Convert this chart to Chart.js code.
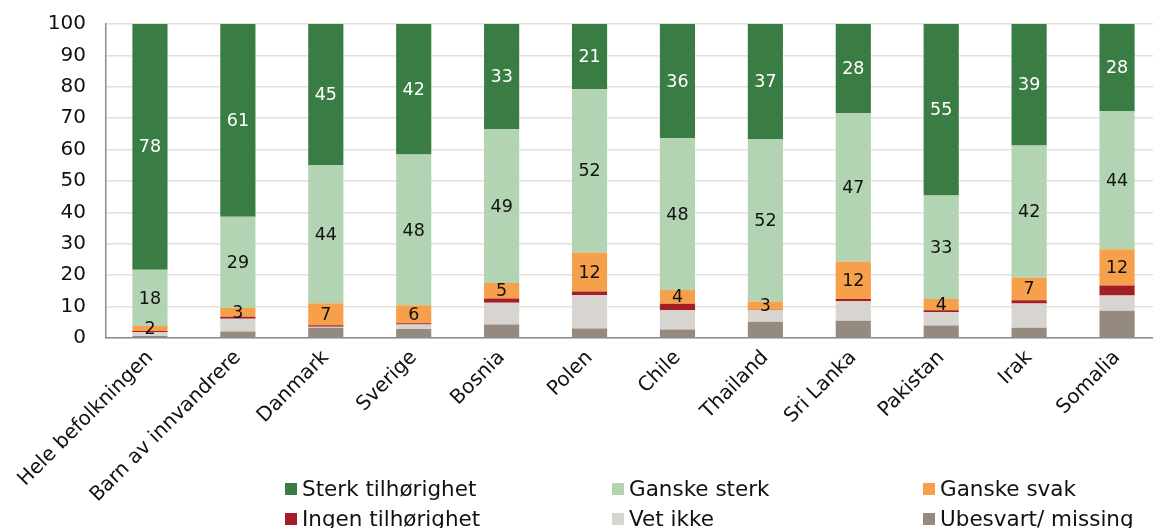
<!DOCTYPE html>
<html>
<head>
<meta charset="utf-8">
<script src="https://cdn.jsdelivr.net/npm/chart.js@4"></script>
<style>
html,body{margin:0;padding:0;background:#fff;overflow:hidden;}
#wrap{position:relative;width:1161px;height:528px;}
</style>
</head>
<body>
<div id="wrap"><canvas id="c"></canvas></div>
<script>
const categories = ["Hele befolkningen","Barn av innvandrere","Danmark","Sverige","Bosnia","Polen","Chile","Thailand","Sri Lanka","Pakistan","Irak","Somalia"];
const sterk       = [78.3, 61.4, 44.9, 41.6, 33.4, 20.8, 36.4, 36.6, 28.4, 54.6, 38.7, 27.7];
const ganskeSterk = [17.9, 29.0, 44.0, 48.0, 49.1, 52.0, 48.3, 51.8, 47.2, 33.0, 42.0, 44.0];
const ganskeSvak  = [1.6, 2.8, 7.0, 5.7, 4.9, 12.4, 4.4, 2.6, 12.0, 3.6, 7.3, 11.6];
const ingen       = [0.4, 0.7, 0.5, 0.4, 1.4, 1.1, 2.0, 0.2, 0.7, 0.6, 1.0, 3.2];
const vetIkke     = [1.2, 4.0, 0.3, 1.4, 6.9, 10.7, 6.2, 3.6, 6.2, 4.2, 7.7, 4.8];
const ubesvart    = [0.6, 2.1, 3.3, 2.9, 4.3, 3.0, 2.7, 5.2, 5.5, 4.0, 3.3, 8.7];
const yTicks = [0,10,20,30,40,50,60,70,80,90,100];

const FONT = "'DejaVu Sans', Verdana, sans-serif";

// stacked bottom -> top
const datasets = [
  {label:"Ubesvart/ missing", data:ubesvart, backgroundColor:"#958a80", showLabel:false},
  {label:"Vet ikke", data:vetIkke, backgroundColor:"#d8d5d1", showLabel:false},
  {label:"Ingen tilhørighet", data:ingen, backgroundColor:"#a51d25", showLabel:false},
  {label:"Ganske svak", data:ganskeSvak, backgroundColor:"#f6a04b", showLabel:true, labelColor:"#111"},
  {label:"Ganske sterk", data:ganskeSterk, backgroundColor:"#b3d4b2", showLabel:true, labelColor:"#111"},
  {label:"Sterk tilhørighet", data:sterk, backgroundColor:"#3a7d44", showLabel:true, labelColor:"#fff"}
];
const legendOrder = ["Sterk tilhørighet","Ganske sterk","Ganske svak","Ingen tilhørighet","Vet ikke","Ubesvart/ missing"];

const labelPlugin = {
  id:'segLabels',
  afterDatasetsDraw(chart){
    const ctx = chart.ctx;
    ctx.save();
    ctx.font = "17.5px " + FONT;
    ctx.textAlign = 'center';
    ctx.textBaseline = 'middle';
    chart.data.datasets.forEach((ds, i) => {
      if (!ds.showLabel) return;
      const meta = chart.getDatasetMeta(i);
      meta.data.forEach((el, j) => {
        const v = ds.data[j];
        ctx.fillStyle = ds.labelColor;
        ctx.fillText(String(Math.round(v)), el.x, (el.y + el.base)/2 + 1);
      });
    });
    ctx.restore();
  }
};

const legendPlugin = {
  id:'gridLegend',
  afterDraw(chart){
    const ctx = chart.ctx;
    const cols = [285, 612, 923];
    const rows = [489, 519];
    ctx.save();
    ctx.font = "21.5px " + FONT;
    ctx.textAlign = 'left';
    ctx.textBaseline = 'middle';
    legendOrder.forEach((name, k) => {
      const ds = chart.data.datasets.find(d => d.label === name);
      const x = cols[k % 3], y = rows[Math.floor(k / 3)];
      ctx.fillStyle = ds.backgroundColor;
      ctx.fillRect(x, y - 6, 12, 12);
      ctx.fillStyle = '#111';
      ctx.fillText(name, x + 17, y + 1);
    });
    ctx.restore();
  }
};

new Chart(document.getElementById('c'), {
  type:'bar',
  data:{labels:categories, datasets:datasets},
  options:{
    responsive:true,
    maintainAspectRatio:false,
    animation:false,
    layout:{padding:{top:24, left:0, right:0, bottom:0}},
    plugins:{legend:{display:false}, tooltip:{enabled:false}},
    datasets:{bar:{barPercentage:0.4, categoryPercentage:1.0, borderWidth:0}},
    scales:{
      x:{
        stacked:true,
        grid:{display:false, drawTicks:false},
        border:{display:true, color:'#8c8c8c', width:1.5},
        ticks:{autoSkip:false, minRotation:45, maxRotation:45, padding:8, color:'#111', font:{family:FONT, size:20}},
        afterFit(s){ s.height = 190; }
      },
      y:{
        stacked:true, min:0, max:100,
        afterBuildTicks(s){ s.ticks = yTicks.map(v => ({value:v})); },
        grid:{color:'#e3dfdb', lineWidth:1.5, drawTicks:true, tickLength:17, tickColor:'rgba(0,0,0,0)'},
        border:{display:true, color:'#8c8c8c', width:1.5},
        ticks:{padding:3, color:'#111', font:{family:FONT, size:20}},
        afterFit(s){ s.width = 106; }
      }
    }
  },
  plugins:[labelPlugin, legendPlugin]
});
</script>
</body>
</html>
